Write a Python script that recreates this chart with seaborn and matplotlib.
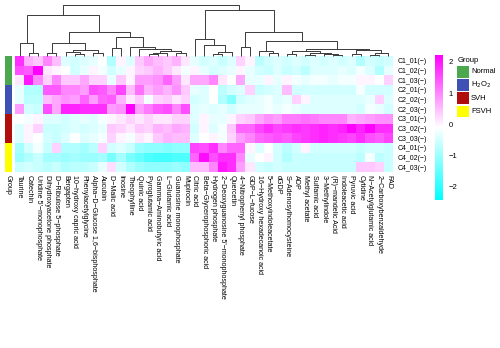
import numpy as np
import pandas as pd
import matplotlib
matplotlib.use("Agg")
import matplotlib.pyplot as plt
from matplotlib.colors import LinearSegmentedColormap, ListedColormap
from matplotlib.patches import Rectangle
import seaborn as sns

# ---------------------------------------------------------------- data
metabolites = [
    "Taurine", "Catechin", "Uridine 5'-monophosphate", "Dihydroxyacetone phosphate",
    "D-Ribulose 5-phosphate", "Bergapten", "10-hydroxy capric acid", "Phenylacetylglycine",
    "Alpha-D-Glucose 1,6-bisphosphate", "Aucubin", "D-Malic acid", "Inosine",
    "Theophylline", "Quinic acid", "Pyroglutamic acid", "Gamma-Aminobutyric acid",
    "L-Glutamic acid", "Guanosine monophosphate", "Mupirocin", "Citric acid",
    "Beta-Glycerophosphoric acid", "Hydrogen phosphate", "2-Deoxyguanosine 5'-monophosphate",
    "Quercetin", "4-Nitrophenyl phosphate", "GDP-L-fucose", "16-Hydroxy hexadecanoic acid",
    "5-Methoxyindoleacetate", "dGDP", "S-Adenosylhomocysteine", "ADP", "Methyl acetate",
    "Sulfamic acid", "3-Methylindole", "(R)-mandelic Acid", "Indoleacetic acid",
    "Pyruvic acid", "Cytidine", "N-Acetylglutamic acid", "2-Carboxybenzaldehyde", "FAD",
]

samples = ["C1_01(-)", "C1_02(-)", "C1_03(-)", "C2_01(-)", "C2_02(-)", "C2_03(-)",
           "C3_01(-)", "C3_02(-)", "C3_03(-)", "C4_01(-)", "C4_02(-)", "C4_03(-)"]
sample_group = ["Normal"] * 3 + ["H2O2"] * 3 + ["SVH"] * 3 + ["FSVH"] * 3

group_names = ["Normal", "H2O2", "SVH", "FSVH"]
group_labels = ["Normal", r"H$_2$O$_2$", "SVH", "FSVH"]
group_colors = ["#4BA84F", "#3F51B5", "#B00D0D", "#FFFF00"]

# row-scaled abundance (z-score), one list per sample, columns in metabolite order
c1_01 = [1.8, 0.6, 0.4, 1.0, 0.5, -0.4, -0.5, -0.4, -0.3, -0.1, -0.8, 0.0, -0.4, 0.4, 0.7,
         0.5, 0.4, 0.6, 0.1, -0.3, -0.5, -0.4, -0.6, -0.4, 0.3, 0.0, -0.7, -0.5, -0.4, -0.5,
         -0.4, -0.5, -0.4, -0.5, -0.4, -0.5, -0.4, -0.8, -0.5, -0.6, -0.5]
c1_02 = [1.5, 1.4, 2.2, 0.1, 0.0, -0.1, -0.5, -0.3, 0.0, -0.2, -0.5, -0.3, 0.0, 0.3, 0.4,
         0.6, 0.4, 0.1, -0.2, 0.0, -0.3, -0.5, -0.4, -0.3, 0.0, -0.3, -0.5, -0.6, -0.4, -0.6,
         -0.5, -0.7, -0.4, -0.4, -0.4, -0.3, -0.4, -0.2, -0.4, -0.8, -0.3]
c1_03 = [0.1, 2.0, 1.0, 0.3, 1.0, 0.4, 0.4, 0.7, 0.3, 0.3, -0.3, 0.4, 0.0, 0.8, 0.8,
         0.9, 1.3, 0.8, 0.1, 0.7, 0.7, 1.0, 0.1, -0.1, 0.7, -0.3, -0.3, 0.0, -0.3, 0.0,
         -0.2, -0.3, -0.2, -0.2, -0.3, -0.2, -0.2, 0.0, 0.0, -0.1, 0.3]
c2_01 = [-0.3, -0.8, -0.8, 1.4, 1.4, 1.0, 1.0, 0.8, 1.5, 1.4, 1.0, 1.6, 0.5, 1.2, 0.6,
         0.8, 0.6, 0.9, 0.4, -0.3, -0.4, -0.1, -0.7, -0.5, -0.4, 0.3, -0.6, -0.5, -0.4, 0.5,
         -0.5, -0.5, -0.5, -0.5, -0.5, -0.5, -0.5, -0.2, -0.5, -0.5, -0.5]
c2_02 = [-0.3, -0.7, -0.7, 0.5, 0.7, 0.9, 0.8, 1.3, 0.8, 1.3, 1.4, 0.6, 0.1, 0.4, -0.2,
         0.3, 0.4, 0.1, 0.3, -0.5, -0.4, -0.1, -0.8, -1.2, -0.5, -0.4, -0.3, -0.2, -0.4, -0.3,
         0.3, 0.0, -0.4, -0.4, -0.4, -0.4, -0.4, -0.4, -0.3, 0.3, -0.4]
c2_03 = [0.8, -0.5, -0.6, 1.5, 0.7, 1.9, 1.9, 1.8, 1.8, 1.8, 0.8, 0.9, 2.2, 0.8, 1.1,
         1.4, 1.5, 1.0, 1.5, -0.4, -0.3, -0.4, -0.3, -0.5, -0.3, -0.3, -0.3, -0.2, -0.3, -0.2,
         -0.3, -0.4, -0.4, -0.4, -0.4, -0.4, -0.4, -0.5, -0.2, -0.3, -0.5]
c3_01 = [-0.1, -0.2, 0.0, -0.4, -0.4, -0.5, -0.4, -0.3, -0.4, -0.2, 0.0, 0.1, 0.3, 0.1, 0.3,
         0.1, 0.1, 0.3, 0.3, -0.4, 0.0, -0.3, -0.3, 0.0, 0.3, 0.4, 0.7, 0.9, 0.8, 1.1,
         1.1, 1.2, 1.1, 1.0, 1.0, 1.0, 0.6, 0.7, 0.8, 0.9, 0.9]
c3_02 = [-0.4, 0.0, 0.3, -0.6, -0.6, -0.5, -0.4, -0.5, -0.4, -0.3, 0.4, 0.3, 0.1, 0.4, 0.3,
         0.6, 0.5, 0.7, 0.6, -0.5, 0.0, -0.4, -0.2, 0.4, 1.3, 1.3, 1.6, 1.8, 1.6, 1.7,
         1.8, 1.7, 1.8, 1.9, 1.8, 1.9, 2.3, 1.9, 2.2, 1.8, 1.8]
c3_03 = [-0.4, 0.0, -0.1, -0.5, -0.6, -0.4, -0.1, -0.4, -0.3, -0.2, 0.3, 0.0, -0.2, 0.1, 0.0,
         0.4, 0.6, 0.5, 0.5, -0.4, -0.1, 0.0, -0.2, 0.3, 0.8, 1.0, 1.3, 1.4, 1.5, 1.4,
         1.6, 1.7, 1.8, 1.9, 1.8, 1.7, 1.6, 1.8, 1.5, 1.4, 1.6]
c4_01 = [-0.9, -0.5, -0.2, -0.6, 0.3, -0.8, -0.8, -0.9, -0.7, 0.3, -0.5, -0.4, -0.6, -1.0, -1.1,
         -1.1, -1.2, -1.1, -1.1, 1.6, 1.5, 1.8, 1.0, 1.3, 1.3, 0.0, -0.4, -0.1, -0.5, -0.7,
         -0.5, 0.0, -0.5, -0.5, -0.5, -0.5, -0.5, -0.6, -0.5, -0.5, -0.6]
c4_02 = [-1.0, -0.8, -0.6, -0.9, -0.9, -1.0, -0.9, -1.0, -1.0, -0.9, -1.3, -0.9, -1.3, -1.5, -1.7,
         -1.8, -1.8, -1.7, -1.7, 1.3, 2.1, 1.5, 1.8, 1.8, 1.0, -0.3, -0.1, 0.0, -0.5, -0.8,
         -0.6, -0.6, -0.6, -0.6, -0.6, -0.6, -0.6, -0.7, -0.2, -0.7, -0.6]
c4_03 = [-0.6, -0.5, -0.6, -0.7, -0.6, -0.8, -0.7, -0.7, -0.6, -0.3, 0.2, -0.5, -0.8, -1.0, -1.1,
         -1.1, -1.1, -1.0, -1.1, 0.5, 0.5, 1.0, 2.0, 1.8, 0.8, 0.1, -0.5, -0.6, -0.5, -0.6,
         -0.6, -0.6, -0.6, -0.6, -0.6, -0.6, -0.6, 0.4, 0.4, 0.3, -0.6]

# column dendrogram as nested merges: (height, left, right); leaves are column indices
col_tree = (51,
    (41,
        (13, 0, (3, 1, 2)),
        (24,
            (13, (3, 3, 4), (6, (4, 5, (2, 6, 7)), (3, 8, 9))),
            (19, (8, 10, 11),
                 (9, 12, (7, 13, (5, (3, (2, 14, 15), 16), (3, 17, 18))))))),
    (46,
        (17, 19, (11, 20, (4, (2, 21, 22), 23))),
        (24,
            (9, 24, 25),
            (15,
                (5, 26, (3, 27, 28)),
                (7,
                    (5, (2, 29, 30), (3, (1, 31, 32), (2, 33, (1, 34, 35)))),
                    (6, (2, 36, 37), (3, (1, 38, 39), 40)))))))

# ---------------------------------------------------------------- figure
W, H = 500, 348
plt.rcParams["font.family"] = ["Liberation Sans", "DejaVu Sans"]
fig = plt.figure(figsize=(W / 100, H / 100), dpi=100)


def px_rect(x0, y0, x1, y1):
    return [x0 / W, 1 - y1 / H, (x1 - x0) / W, (y1 - y0) / H]


def dash(s):
    return s.replace("-", "\u2212")


values = pd.DataFrame([c1_01, c1_02, c1_03, c2_01, c2_02, c2_03,
                       c3_01, c3_02, c3_03, c4_01, c4_02, c4_03],
                      index=samples, columns=metabolites)

cmap = LinearSegmentedColormap.from_list("cyan_white_magenta",
                                         ["#00FFFF", "#FFFFFF", "#FF00FF"])

ax_heat = fig.add_axes(px_rect(15, 56, 393, 172))
ax_cbar = fig.add_axes(px_rect(435, 55, 443, 200))
ax_rc = fig.add_axes(px_rect(5, 56, 12, 172))
ax_den = fig.add_axes(px_rect(15, 5, 393, 56))

sns.heatmap(values, ax=ax_heat, cmap=cmap, vmin=-2.42, vmax=2.22,
            cbar=True, cbar_ax=ax_cbar, linewidths=0,
            xticklabels=[dash(m) for m in metabolites],
            yticklabels=[dash(s) for s in samples])
ax_heat.set_xlabel("")
ax_heat.set_ylabel("")
ax_heat.yaxis.tick_right()
ax_heat.tick_params(axis="y", length=0, pad=3, labelsize=5, labelrotation=0)
ax_heat.tick_params(axis="x", length=0, pad=2, labelsize=5.1)
plt.setp(ax_heat.get_xticklabels(), rotation=270, ha="center", va="top")

# colour bar
cb = ax_heat.collections[0].colorbar
cb.set_ticks([-2, -1, 0, 1, 2])
cb.outline.set_visible(False)
ax_cbar.tick_params(length=0, pad=4, labelsize=5.5)

# group annotation strip
codes = pd.DataFrame({"Group": [group_names.index(g) for g in sample_group]}, index=samples)
sns.heatmap(codes, ax=ax_rc, cmap=ListedColormap(group_colors), vmin=-0.5, vmax=3.5,
            cbar=False, xticklabels=True, yticklabels=False, linewidths=0)
ax_rc.set_ylabel("")
ax_rc.tick_params(axis="x", length=0, pad=2, labelsize=5.1)
plt.setp(ax_rc.get_xticklabels(), rotation=270, ha="center", va="top")


# column dendrogram
def draw_tree(node, ax):
    if isinstance(node, int):
        return node + 0.5, 0.0
    h, left, right = node
    xl, hl = draw_tree(left, ax)
    xr, hr = draw_tree(right, ax)
    ax.plot([xl, xl, xr, xr], [hl, h, h, hr], color="#3a3a3a", lw=0.7,
            solid_capstyle="butt", clip_on=False)
    return (xl + xr) / 2, h


draw_tree(col_tree, ax_den)
ax_den.set_xlim(0, len(metabolites))
ax_den.set_ylim(0, col_tree[0])
ax_den.axis("off")

# group legend
fig.text(458 / W, 1 - 61 / H, "Group", fontsize=5.5, ha="left", va="center")
for i, (lab, col) in enumerate(zip(group_labels, group_colors)):
    y0 = 66 + i * 13.2
    fig.patches.append(Rectangle((457 / W, 1 - (y0 + 11.7) / H), 11.5 / W, 11.7 / H,
                                 transform=fig.transFigure, facecolor=col,
                                 edgecolor="none"))
    fig.text(471 / W, 1 - (y0 + 5.8) / H, lab, fontsize=5.5, ha="left", va="center")

fig.savefig("out.png", dpi=100)
